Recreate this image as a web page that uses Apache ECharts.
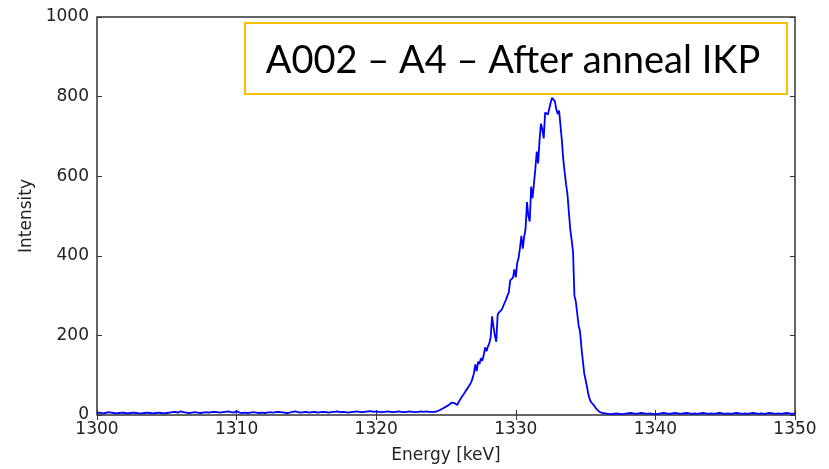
<!DOCTYPE html>
<html>
<head>
<meta charset="utf-8">
<script src="https://cdn.jsdelivr.net/npm/echarts@6/dist/echarts.min.js"></script>
<style>
  html, body { margin: 0; padding: 0; background: #fff; }
  #chart { width: 829px; height: 469px; }
</style>
</head>
<body>
<div id="chart"></div>
<script>
// Spectrum segments: [start energy keV, channel step keV, intensities]
const lowStart = 1300.0;
const lowStep = 0.2;
const lowCounts = [
  5, 6, 4, 5, 7, 6, 5, 4, 5, 6,
  5, 4, 5, 6, 5, 4, 4, 5, 6, 5,
  4, 5, 6, 5, 4, 5, 6, 7, 8, 6,
  9, 7, 6, 5, 6, 7, 6, 5, 6, 7,
  6, 7, 8, 7, 6, 7, 8, 9, 7, 6,
  10, 6, 5, 6, 5, 6, 7, 6, 5, 6,
  5, 6, 7, 6, 7, 8, 7, 6, 5, 6,
  8, 9, 7, 6, 7, 8, 6, 7, 8, 6,
  7, 8, 7, 6, 7, 8, 9, 7, 8, 7,
  6, 7, 8, 9, 8, 7, 8, 9, 10, 8,
  9, 8, 7, 8, 9, 8, 7, 8, 9, 8,
  7, 8, 9, 8, 7, 8, 9, 8, 9, 8
];

const peakStart = 1324.0;
const peakStep = 0.1;
const peakCounts = [
  8, 9, 8, 11, 10, 12, 13, 14, 17, 19,          // 1324.0 - 1324.9
  21, 22, 25, 27, 31, 34, 30, 26, 25, 32,       // 1325.0 - 1325.9
  38, 44, 49, 54, 60, 64, 70, 76, 82, 92,       // 1326.0 - 1326.9
  105, 127, 110, 134, 128, 143, 136, 150, 170, 160, // 1327.0 - 1327.9
  172, 180, 195, 248, 222, 200, 184, 252, 258, 262, // 1328.0 - 1328.9
  265, 270, 282, 290, 300, 308, 338, 342, 345, 366, // 1329.0 - 1329.9
  346, 382, 395, 420, 450, 418, 448, 468, 535, 500, // 1330.0 - 1330.9
  486, 574, 545, 582, 618, 662, 632, 690, 732, 718, // 1331.0 - 1331.9
  695, 760, 757, 755, 756, 785, 797, 800, 788, 768, // 1332.0 - 1332.9
  756, 765, 762, 690, 643, 610, 580, 555, 510, 467, // 1333.0 - 1333.9
  440, 410, 300, 285, 255, 225, 210, 170, 137, 105, // 1334.0 - 1334.9
  88, 71, 52, 39, 32, 27, 24, 20, 14, 10,       // 1335.0 - 1335.9
  8, 7, 5, 4, 4, 3                              // 1336.0 - 1336.5
];

const highStart = 1336.6;
const highStep = 0.2;
const highCounts = [
  3, 2, 3, 4, 3, 2, 3, 4, 5, 4,
  3, 4, 5, 4, 3, 4, 3, 2, 3, 4,
  5, 4, 3, 4, 5, 4, 3, 4, 5, 4,
  3, 4, 3, 4, 5, 4, 3, 4, 3, 4,
  5, 4, 3, 4, 3, 4, 5, 4, 3, 4,
  3, 4, 5, 4, 3, 4, 3, 4, 5, 4,
  3, 4, 3, 4, 5, 4, 3, 4
];

const xTicks = [1300, 1310, 1320, 1330, 1340, 1350];
const yTicks = [0, 200, 400, 600, 800, 1000];
const titleText = 'A002 \u2013 A4 \u2013 After anneal IKP';

// Pair each channel energy with its intensity
function toPoints(start, step, counts) {
  return counts.map((v, i) => [+(start + i * step).toFixed(2), v]);
}
const spectrum = []
  .concat(toPoints(lowStart, lowStep, lowCounts))
  .concat(toPoints(peakStart, peakStep, peakCounts))
  .concat(toPoints(highStart, highStep, highCounts));

const frameColor = '#333';
const labelFont = { fontFamily: 'DejaVu Sans', fontSize: 17, color: '#222' };
const plain = v => String(v);

const chart = echarts.init(document.getElementById('chart'), null, { renderer: 'canvas' });

const tickStyle = { show: true, inside: true, length: 5, lineStyle: { color: frameColor, width: 1 } };

chart.setOption({
  animation: false,
  backgroundColor: '#fff',
  grid: { left: 97, right: 34, top: 17, bottom: 43, show: true, borderColor: frameColor, borderWidth: 1.5 },
  xAxis: [
    {
      type: 'value', min: xTicks[0], max: xTicks[xTicks.length - 1], interval: 10,
      axisLine: { show: false },
      axisTick: tickStyle,
      splitLine: { show: false },
      axisLabel: Object.assign({ margin: 6, formatter: plain }, labelFont),
      name: 'Energy [keV]', nameLocation: 'middle', nameGap: 32,
      nameTextStyle: labelFont
    },
    {
      type: 'value', position: 'top', min: xTicks[0], max: xTicks[xTicks.length - 1], interval: 10,
      axisLine: { show: false }, axisTick: tickStyle, axisLabel: { show: false }, splitLine: { show: false }
    }
  ],
  yAxis: [
    {
      type: 'value', min: yTicks[0], max: yTicks[yTicks.length - 1], interval: 200,
      axisLine: { show: false },
      axisTick: tickStyle,
      splitLine: { show: false },
      axisLabel: Object.assign({ margin: 8, formatter: plain }, labelFont),
      name: 'Intensity', nameLocation: 'middle', nameGap: 53,
      nameTextStyle: labelFont
    },
    {
      type: 'value', position: 'right', min: yTicks[0], max: yTicks[yTicks.length - 1], interval: 200,
      axisLine: { show: false }, axisTick: tickStyle, axisLabel: { show: false }, splitLine: { show: false }
    }
  ],
  series: [{
    type: 'line',
    data: spectrum,
    symbol: 'none',
    lineStyle: { color: '#0000ff', width: 1.8 },
    z: 3
  }],
  graphic: [{
    type: 'group',
    left: 244, top: 22,
    z: 100,
    children: [
      {
        type: 'rect',
        shape: { x: 0, y: 0, width: 542, height: 71 },
        style: { fill: '#fff', stroke: '#FFC000', lineWidth: 2 }
      },
      {
        type: 'text',
        x: 268, y: 38,
        style: {
          text: titleText,
          fontFamily: 'Lato', fontSize: 38,
          fill: '#000',
          align: 'center', verticalAlign: 'middle'
        }
      }
    ]
  }]
});
</script>
</body>
</html>
